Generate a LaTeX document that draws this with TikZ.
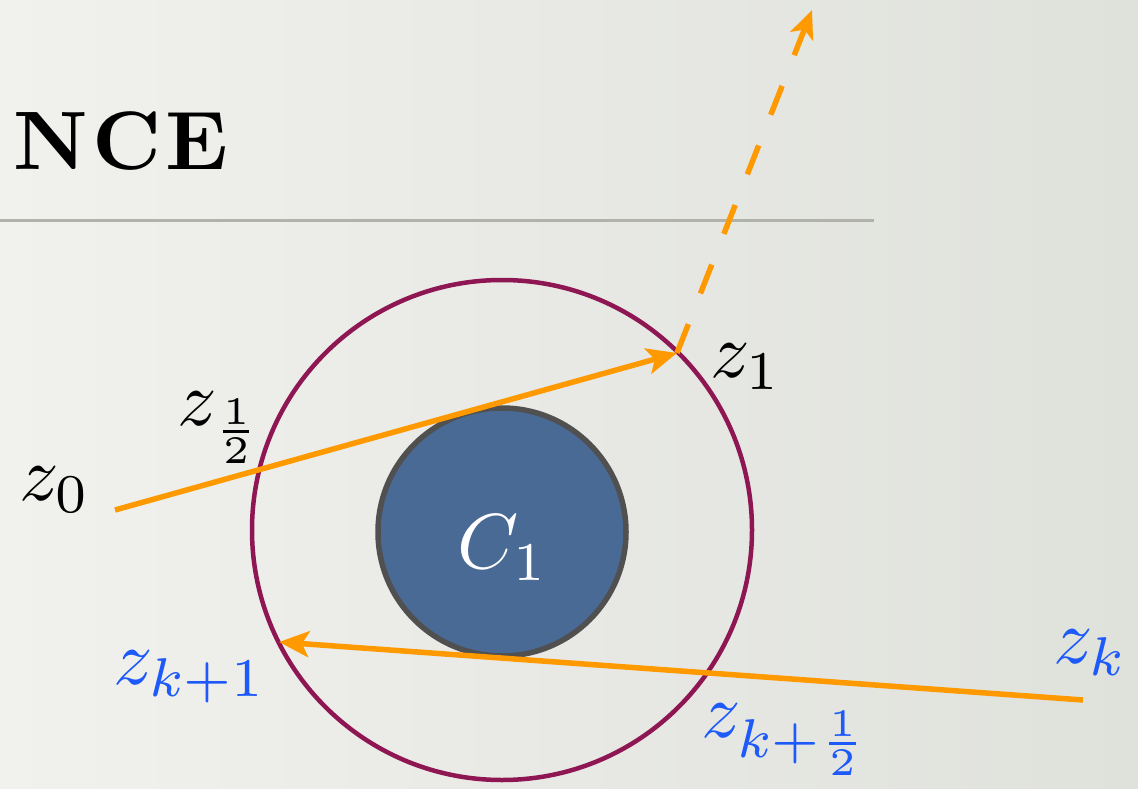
\documentclass[tikz,border=0pt]{standalone}
\usetikzlibrary{arrows.meta}
\definecolor{bgl}{RGB}{241,241,238}
\definecolor{bgr}{RGB}{223,225,219}
\definecolor{rule}{RGB}{178,178,172}
\definecolor{orng}{RGB}{255,153,0}
\definecolor{ring}{RGB}{142,22,82}
\definecolor{cfill}{RGB}{74,106,150}
\definecolor{cborder}{RGB}{80,80,80}
\definecolor{lblue}{RGB}{30,90,250}
\tikzset{
  ray/.style={draw=orng, line width=5.5pt},
  tip/.style={-{Stealth[length=30pt,width=26pt,inset=7pt]}},
  lbl/.style={inner sep=0pt, scale=7.8},
  blbl/.style={lbl, text=lblue},
}
\begin{document}
\begin{tikzpicture}[x=1pt,y=-1pt]
\shade[left color=bgl, right color=bgr] (0,0) rectangle (1138,789);
\useasboundingbox (0,0) rectangle (1138,789);
% title
\node[anchor=west, inner sep=0pt, scale=8.3, font=\bfseries] (title) at (12,141) {N\kern0.5pt C\kern0.5pt E};
\coordinate (ruleL) at (0,220);
\coordinate (ruleR) at (874,220);
\draw[rule, line width=3pt] (ruleL) -- (ruleR);
% circles
\node[circle, draw=ring, line width=4.5pt, minimum size=500pt, inner sep=0pt] (outer) at (502,530) {};
\node[circle, fill=cfill, draw=cborder, line width=5.5pt, minimum size=248pt, inner sep=0pt] (inner) at (502,532) {};
\node[lbl, text=white] (C1) at (503,548) {$C_1$};
% points
\coordinate (z0) at (115,510);
\coordinate (z1) at (677,353);
\coordinate (far) at (812,10);
\coordinate (zk) at (1083,700);
\coordinate (zk1) at (279,642);
% rays
\draw[ray, tip] (z0) -- (z1);
\draw[ray, dash pattern=on 31pt off 33pt, -{Stealth[length=28pt,width=24pt,inset=7pt]}] (z1) -- (far);
\draw[ray, tip] (zk) -- (zk1);
% labels
\node[lbl] (lz0) at (55,490) {$z_0$};
\node[lbl] (lzh) at (220,428) {$z_{\frac{1}{2}}$};
\node[lbl] (lz1) at (746,367) {$z_1$};
\node[blbl] (lzk1) at (190,677) {$z_{k+1}$};
\node[blbl] (lzk) at (1091,653) {$z_k$};
\node[blbl] (lzkh) at (785,740) {$z_{k+\frac{1}{2}}$};
\end{tikzpicture}
\end{document}
